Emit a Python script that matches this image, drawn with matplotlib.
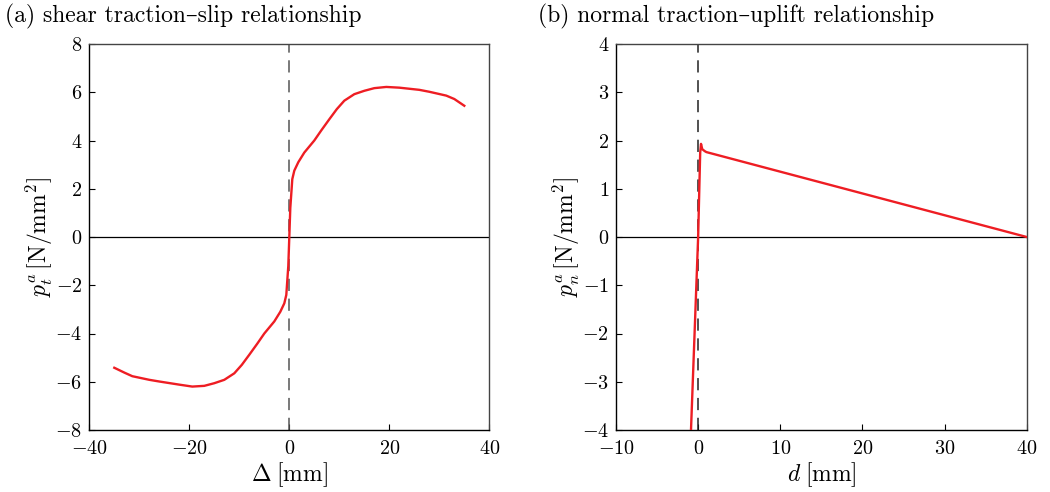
import matplotlib
matplotlib.use("Agg")
import matplotlib.pyplot as plt

plt.rcParams['font.family'] = ['cmr10', 'DejaVu Serif']
plt.rcParams['mathtext.fontset'] = 'cm'
plt.rcParams['axes.formatter.use_mathtext'] = True
plt.rcParams['axes.unicode_minus'] = True

# (a) shear traction-slip
slip = [-35.0, -33.0, -31.4, -28.0, -26.0, -22.0, -19.4, -17.0, -15.0, -13.0, -11.0, -9.5, -8.0,
        -6.4, -5.0, -3.0, -1.8, -1.0, -0.6, -0.2,
        0.0, 0.2, 0.6, 1.0, 1.8, 3.0, 5.0, 6.4, 8.0, 9.5, 11.0, 13.0, 15.0, 17.0, 19.4, 22.0,
        26.0, 28.0, 31.4, 33.0, 35.0]
shear = [-5.42, -5.62, -5.77, -5.92, -5.99, -6.12, -6.20, -6.17, -6.06, -5.92, -5.65, -5.3, -4.88,
         -4.42, -4.0, -3.5, -3.1, -2.75, -2.4, -1.2,
         0.0, 1.2, 2.4, 2.75, 3.1, 3.5, 4.0, 4.42, 4.88, 5.3, 5.65, 5.92, 6.06, 6.17, 6.22, 6.19,
         6.1, 6.02, 5.86, 5.72, 5.44]

# (b) normal traction-uplift
uplift = [-1.0, 0.0, 0.25, 0.35, 0.5, 0.8, 1.0, 40.0]
normal = [-4.6, 0.0, 1.75, 1.93, 1.82, 1.78, 1.76, 0.0]

red = '#ee1d23'
fig = plt.figure(figsize=(10.5, 4.92), dpi=100)
ax1 = fig.add_axes([89.3/1050, 1-430/492, 400/1050, 386/492])
ax2 = fig.add_axes([616/1050, 1-430/492, 410.7/1050, 386/492])

def style(ax):
    ax.spines['top'].set_color('#444444')
    ax.spines['right'].set_color('#444444')
    for s in ax.spines.values():
        s.set_linewidth(1.0)
    ax.tick_params(direction='in', top=False, right=False, length=4, labelsize=14.5, width=0.8)
    ax.tick_params(axis='x', pad=7)
    ax.tick_params(axis='y', pad=5)

ax1.plot(slip, shear, color=red, lw=1.7, zorder=3, solid_joinstyle='round')
ax1.axhline(0, color='black', lw=0.9)
ax1.axvline(0, color='#555555', lw=1.1, ls=(0, (8, 5)))
ax1.set_xlim(-40, 40)
ax1.set_ylim(-8, 8)
ax1.set_xticks([-40, -20, 0, 20, 40])
ax1.set_yticks([-8, -6, -4, -2, 0, 2, 4, 6, 8])
ax1.set_xlabel(r'$\Delta\;$[mm]', fontsize=17, labelpad=2)
ax1.set_ylabel(r'$p^a_t\,$[N/mm$^2$]', fontsize=17, labelpad=0)
style(ax1)

ax2.plot(uplift, normal, color=red, lw=1.7, zorder=3, solid_joinstyle='round')
ax2.axhline(0, color='black', lw=0.9)
ax2.axvline(0, color='#222222', lw=1.1, ls=(0, (8, 5)))
ax2.set_xlim(-10, 40)
ax2.set_ylim(-4, 4)
ax2.set_xticks([-10, 0, 10, 20, 30, 40])
ax2.set_yticks([-4, -3, -2, -1, 0, 1, 2, 3, 4])
ax2.set_xlabel(r'$d\;$[mm]', fontsize=17, labelpad=2)
ax2.set_ylabel(r'$p^a_n\,$[N/mm$^2$]', fontsize=17, labelpad=0)
style(ax2)

fig.text(5/1050, 1-16/492, '(a) shear traction\u2013slip relationship', fontsize=17, va='center', ha='left')
fig.text(538/1050, 1-16/492, '(b) normal traction\u2013uplift relationship', fontsize=17, va='center', ha='left')

fig.savefig('out.png', dpi=100)
